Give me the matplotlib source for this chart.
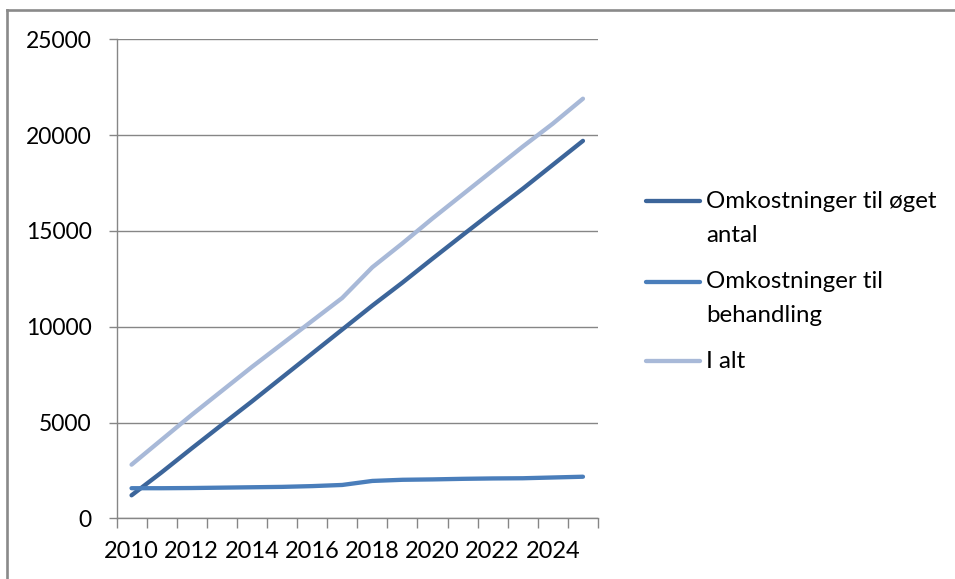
import matplotlib
matplotlib.use("Agg")
import matplotlib.pyplot as plt
from matplotlib.lines import Line2D

years = list(range(2010, 2026))
oget_antal = [1200, 2400, 3650, 4880, 6100, 7350, 8600, 9850, 11100, 12300,
              13550, 14780, 16000, 17200, 18450, 19700]
behandling = [1570, 1570, 1580, 1600, 1620, 1640, 1680, 1740, 1950, 2010,
              2030, 2060, 2080, 2090, 2130, 2170]
i_alt = [2800, 4100, 5400, 6650, 7900, 9100, 10300, 11500, 13100, 14350,
         15650, 16900, 18150, 19400, 20600, 21900]

series_labels = [["Omkostninger til øget", "antal"],
                 ["Omkostninger til", "behandling"],
                 ["I alt"]]
colors = ["#3C659A", "#4A7EBB", "#A8B9D8"]
yticks = [0, 5000, 10000, 15000, 20000, 25000]
xlabel_years = [2010, 2012, 2014, 2016, 2018, 2020, 2022, 2024]

plt.rcParams['font.family'] = ['Lato', 'DejaVu Sans']
W, H = 955, 579
fig = plt.figure(figsize=(W / 100, H / 100), dpi=100)
ax = fig.add_axes([116.5 / W, 1 - 518.3 / H, (598 - 116.5) / W, (518.3 - 39.3) / H])

x = list(range(len(years)))
series = [oget_antal, behandling, i_alt]
order = [2, 0, 1]
for i in order:
    ax.plot(x, series[i], color=colors[i], lw=3.1, solid_capstyle='round',
            solid_joinstyle='round', zorder=3 + i)

gray = "#868686"
ax.set_xlim(-0.5, len(years) - 0.5)
ax.set_ylim(0, 25000)
ax.set_yticks(yticks)
ax.set_yticklabels([str(v) for v in yticks])
ax.yaxis.grid(True, color=gray, lw=1.0)
ax.set_axisbelow(True)
for s in ['top', 'right']:
    ax.spines[s].set_visible(False)
for s in ['left', 'bottom']:
    ax.spines[s].set_color(gray)
    ax.spines[s].set_linewidth(1.0)

ax.set_xticks([i - 0.5 for i in range(len(years) + 1)])
ax.set_xticklabels([])
ax.set_xticks([years.index(y) for y in xlabel_years], minor=True)
ax.set_xticklabels([str(y) for y in xlabel_years], minor=True)
ax.tick_params(axis='x', which='major', direction='out', length=7.5, width=1.0, color=gray)
ax.tick_params(axis='x', which='minor', length=0, pad=16, labelsize=17)
ax.tick_params(axis='y', direction='out', length=6, width=1.0, color=gray, pad=12, labelsize=16.5)
for lab in ax.get_xticklabels(minor=True):
    lab.set_x(lab.get_position()[0])

# legend drawn manually
tr = fig.transFigure
def px(xp, yp):
    return xp / W, 1 - yp / H

entry_y = [201, 282, 361]
for i, (lbls, yy) in enumerate(zip(series_labels, entry_y)):
    x0, y0 = px(646, yy)
    x1, _ = px(700, yy)
    fig.add_artist(Line2D([x0, x1], [y0, y0], transform=tr, color=colors[i], lw=3.1,
                          solid_capstyle='round'))
    for j, t in enumerate(lbls):
        tx, ty = px(706, yy + 34 * j)
        fig.text(tx, ty, t, fontsize=17.3, va='center', ha='left', color='black')

# outer frame (top and left)
bc = "#8A8A8A"
fig.add_artist(Line2D([7.3 / W, 7.3 / W], [0, 1 - 9.5 / H], transform=tr, color=bc, lw=1.9))
fig.add_artist(Line2D([7.3 / W, 1], [1 - 9.5 / H, 1 - 9.5 / H], transform=tr, color=bc, lw=1.9))

fig.savefig("out.png", dpi=100)
